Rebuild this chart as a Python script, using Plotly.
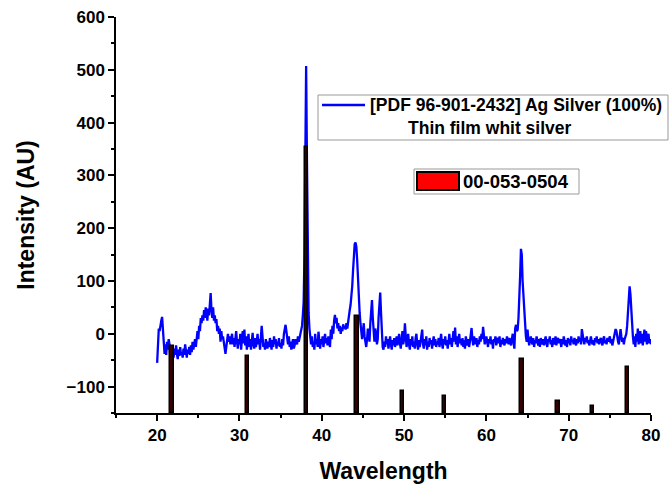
import numpy as np
import plotly.graph_objects as go

# ---------------- data ----------------
# XRD pattern sampled every 0.1 degree from 20.0 to 80.0 (one row per degree)
two_theta_start = 20.0
two_theta_step = 0.1
intensity_rows = [
    [-55, -5, 10, 5, 20, 25, 32, 5, -25, -38],          # 20
    [-20, -40, -15, -30, -10, -20, -45, -25, -42, -30],  # 21
    [-45, -28, -40, -22, -38, -48, -30, -42, -25, -40],  # 22
    [-35, -45, -28, -40, -20, -35, -45, -30, -38, -25],  # 23
    [-40, -22, -35, -15, -30, -20, -10, -25, -5, 5],     # 24
    [-10, 15, 5, 30, 20, 35, 25, 45, 30, 50],            # 25
    [40, 25, 48, 35, 55, 77, 45, 30, 50, 25],            # 26
    [35, 20, 28, 5, 15, 0, 10, -15, 5, -10],             # 27
    [-5, -20, -30, -38, -25, -10, 0, -15, -5, -20],      # 28
    [-10, 0, -20, -8, -25, -12, 5, -15, -28, -10],       # 29
    [-20, 0, -30, -10, 5, -18, 8, -22, -5, -30],         # 30
    [-15, 0, -25, -10, -30, -12, 2, -20, -28, -8],       # 31
    [-25, -15, 0, -20, -10, -30, -12, 15, -5, -25],      # 32
    [-18, -30, -10, -22, -28, -15, -25, -8, -20, -30],   # 33
    [-12, -25, -5, -20, -10, -28, -15, -22, -8, -25],    # 34
    [-18, -28, -10, -22, 0, 10, 17, 5, -10, -20],        # 35
    [-5, -25, -15, -30, -20, -10, -28, -22, -10, -15],   # 36
    [-20, -5, -15, -8, 0, 5, 15, 35, 60, 150],           # 37
    [350, 507, 330, 120, 40, 10, -10, -20, -5, -25],     # 38
    [-15, -30, 0, -20, -10, -25, 4, -15, -28, -10],      # 39
    [-20, -5, -25, -12, 0, -18, -8, -22, -5, -15],       # 40
    [-25, 8, -10, 15, 0, 25, 36, 20, 30, 10],            # 41
    [20, 5, 15, 0, 12, 5, 18, 10, 15, 8],                # 42
    [20, 10, 25, 30, 45, 55, 70, 90, 120, 150],          # 43
    [170, 173, 165, 140, 100, 70, 40, 20, 0, -10],       # 44
    [5, 20, -5, -20, -25, -10, 10, 0, -15, 20],          # 45
    [40, 64, 30, -5, -15, 10, 0, -20, -10, 30],          # 46
    [60, 78, 40, 0, -25, -30, -15, -25, -5, -20],        # 47
    [-10, -28, -15, -5, -20, -30, -12, -22, -8, -25],    # 48
    [-15, -5, -22, -10, 0, -18, -28, -12, 5, -20],       # 49
    [-10, 20, -5, -25, -15, 0, -20, -30, -10, -22],      # 50
    [-5, -25, -15, -28, -8, 0, -20, -30, -12, -25],      # 51
    [-15, 0, 8, -20, -28, -10, -22, -5, -30, -15],       # 52
    [-25, -8, -20, -12, -28, -15, -5, -22, -10, -25],    # 53
    [-15, -20, -8, -25, -12, 0, -18, -28, -10, -20],     # 54
    [-5, -22, -12, -28, -15, 0, -20, -8, -25, -10],      # 55
    [5, -15, 12, -20, -5, -25, -12, 0, -18, -10],        # 56
    [-22, -8, -25, -12, -28, -5, -15, -22, -10, -25],    # 57
    [-15, 0, 11, -10, -22, -5, -15, -20, -8, -25],       # 58
    [-12, -20, -5, -15, 0, -10, 13, -8, -20, -12],       # 59
    [-5, -15, -25, -10, -18, -5, -20, -12, -28, -10],    # 60
    [-15, -5, -22, -12, -8, -18, -5, -25, -12, -20],     # 61
    [-8, -15, -22, -10, -18, -5, -12, -20, -8, -15],     # 62
    [-22, -10, 0, -15, -28, 10, 17, 5, 8, 30],           # 63
    [60, 110, 161, 150, 100, 70, 30, 10, -5, -15],       # 64
    [8, -10, -22, -12, -5, -15, -20, -8, -25, -12],      # 65
    [-18, -5, -15, -22, -10, -25, -8, -15, -20, -10],    # 66
    [-22, -12, -5, -18, -25, -10, -15, -5, -20, -12],    # 67
    [-25, -8, -15, -20, -5, -22, -12, -8, -18, -10],     # 68
    [-15, -25, -10, -20, -5, -15, -22, -12, -25, -8],    # 69
    [-18, -10, -22, -5, -15, -12, -20, -8, -15, -22],    # 70
    [-10, -18, -5, -15, -8, -20, 9, -5, -12, -20],       # 71
    [-8, -15, -5, -18, -12, -22, -10, -5, -15, -20],     # 72
    [-12, -22, -8, -15, -5, -18, -10, -20, -12, -8],     # 73
    [-15, -22, -10, -5, -18, -12, -20, -8, -15, -10],    # 74
    [-5, -18, -10, -22, -12, -5, 0, 9, 5, -10],          # 75
    [-15, -20, -5, 9, -5, -15, -8, -20, -10, -5],        # 76
    [0, 15, 40, 70, 90, 75, 40, 15, -5, -20],            # 77
    [-5, -25, 0, -15, 10, -20, -5, 5, -18, 0],           # 78
    [-22, -5, 8, -15, 5, -20, -8, 0, -18, -10],          # 79
    [-20],                                               # 80
]

# Reference pattern 00-053-0504 (stick positions and their top values)
ref_positions = [21.8, 31.0, 38.15, 44.3, 49.8, 54.9, 64.3, 68.7, 72.9, 77.15]
ref_tops = [-23, -42, 353, 33, -108, -117, -47, -127, -137, -62]

x_ticks = [20, 30, 40, 50, 60, 70, 80]
y_ticks = [-100, 0, 100, 200, 300, 400, 500, 600]
x_range = [15, 80]
y_range = [-150, 600]

line_name = "[PDF 96-901-2432] Ag Silver (100%)"
line_name2 = "Thin film whit silver"
bar_name = "00-053-0504"

# ---------------- build ----------------
intensity = [v for row in intensity_rows for v in row]
two_theta = [round(two_theta_start + i * two_theta_step, 2) for i in range(len(intensity))]
bar_heights = [t - y_range[0] for t in ref_tops]

FONT = "Liberation Sans, Arial, sans-serif"

fig = go.Figure()
fig.add_trace(go.Scatter(
    x=two_theta, y=intensity, mode="lines",
    line=dict(color="#0000FF", width=2.3),
    name=line_name, showlegend=False,
))
# sticks on an overlaid (identical) axis pair so they are painted above the line
fig.add_trace(go.Bar(
    x=ref_positions, y=bar_heights, base=y_range[0],
    width=0.42, xaxis="x2", yaxis="y2",
    marker=dict(color="#3a0000", line=dict(color="black", width=1.5)),
    name=bar_name, showlegend=False,
))

# plot area in pixels: x 116..651, y 17..413
L, R, T, B = 116, 651, 17, 413
W, H = R - L, B - T
def px(xp):
    return (xp - L) / W
def py(yp):
    return (B - yp) / H

axis_common = dict(showgrid=False, zeroline=False, showline=True, linecolor="black",
                   linewidth=1.5, ticks="outside", ticklen=6, tickwidth=1.5,
                   tickcolor="black", automargin=False)

fig.update_layout(
    width=670, height=484,
    margin=dict(l=L, r=670 - R, t=T, b=484 - B, autoexpand=False),
    paper_bgcolor="white", plot_bgcolor="white",
    font=dict(family=FONT, size=17, color="black", weight="bold"),
    bargap=0, showlegend=False,
    xaxis=dict(
        range=x_range, tickvals=x_ticks, **axis_common,
        minor=dict(dtick=5, tick0=0, ticks="outside", ticklen=3, tickwidth=1.5, tickcolor="black"),
        tickfont=dict(size=17, weight="bold"), ticklabelstandoff=0,
        title=dict(text="Wavelength", font=dict(size=23, weight="bold"), standoff=20),
    ),
    yaxis=dict(
        range=y_range, tickvals=y_ticks, **axis_common,
        minor=dict(dtick=50, tick0=0, ticks="outside", ticklen=3, tickwidth=1.5, tickcolor="black"),
        tickfont=dict(size=17, weight="bold"),
        title=dict(text="Intensity (AU)", font=dict(size=23, weight="bold"), standoff=26),
    ),
    xaxis2=dict(range=x_range, overlaying="x", visible=False),
    yaxis2=dict(range=y_range, overlaying="y", visible=False),
)

# legend 1 (sample pattern) drawn as a framed key
fig.add_shape(type="rect", xref="paper", yref="paper",
              x0=px(318), x1=px(668), y0=py(140), y1=py(95),
              line=dict(color="#999999", width=1), fillcolor="white", layer="above")
fig.add_shape(type="line", xref="paper", yref="paper",
              x0=px(322), x1=px(365), y0=py(105), y1=py(105),
              line=dict(color="#0000FF", width=2.3), layer="above")
fig.add_annotation(xref="paper", yref="paper", x=px(368), y=py(105),
                   xanchor="left", yanchor="middle", showarrow=False,
                   text=line_name, font=dict(family=FONT, size=17.5, color="black", weight="bold"))
fig.add_annotation(xref="paper", yref="paper", x=px(406), y=py(128),
                   xanchor="left", yanchor="middle", showarrow=False,
                   text=line_name2, font=dict(family=FONT, size=17.5, color="black", weight="bold"))

# legend 2 (reference pattern)
fig.add_shape(type="rect", xref="paper", yref="paper",
              x0=px(414), x1=px(579), y0=py(194), y1=py(169),
              line=dict(color="#999999", width=1), fillcolor="white", layer="above")
fig.add_shape(type="rect", xref="paper", yref="paper",
              x0=px(417), x1=px(459), y0=py(190), y1=py(172),
              line=dict(color="black", width=2), fillcolor="#FF0000", layer="above")
fig.add_annotation(xref="paper", yref="paper", x=px(461), y=py(181.5),
                   xanchor="left", yanchor="middle", showarrow=False,
                   text=bar_name, font=dict(family=FONT, size=18.5, color="black", weight="bold"))

fig.write_html("out.html")
